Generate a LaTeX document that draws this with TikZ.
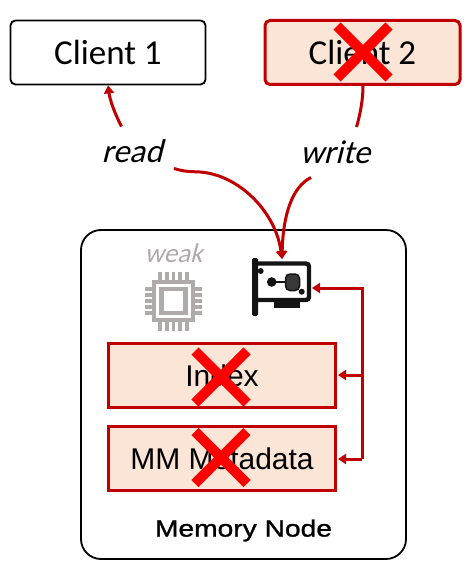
\documentclass[tikz,border=0pt]{standalone}
\usepackage{fontspec}
\setmainfont{Carlito}
\newfontfamily\arialf{Liberation Sans}
\newfontfamily\memf[FakeStretch=1.2,FakeBold=1.2]{Liberation Sans}
\newfontfamily\slantf[FakeSlant=0.25]{Carlito}
\usetikzlibrary{arrows.meta}
\definecolor{dred}{RGB}{192,0,0}
\definecolor{peach}{RGB}{251,229,214}
\definecolor{chipgrey}{RGB}{175,171,171}
\definecolor{iconblack}{RGB}{20,20,20}
\tikzset{
  client/.style={draw=black,line width=1.8pt,rounded corners=5pt,minimum width=195pt,minimum height=64pt,inner sep=0pt,font=\fontsize{35}{39}\selectfont},
  failclient/.style={client,draw=dred,fill=peach,line width=3pt},
  store/.style={draw=dred,fill=peach,line width=3pt,minimum width=227pt,minimum height=64pt,inner sep=0pt,font=\arialf\fontsize{30}{34}\selectfont},
  opnote/.style={inner sep=0pt,font=\slantf\fontsize{33}{37}\selectfont},
  flow/.style={draw=dred,line width=3pt},
  flowtip/.style={flow,-{Triangle[length=8pt,width=10pt]}},
  crossmark/.style={draw=red,line width=10pt},
  chipline/.style={draw=chipgrey,line width=4.2pt},
  pin/.style={draw=chipgrey,line width=3.6pt},
}
\begin{document}
\begin{tikzpicture}[x=1pt,y=-1pt]
\useasboundingbox (0,0) rectangle (472,572);
% memory node
\node[draw=black,line width=1.8pt,rounded corners=20pt,minimum width=325pt,minimum height=329pt,inner sep=0pt] (mem) at (243.5,394.5) {};
\node[inner sep=0pt,font=\memf\fontsize{23.5}{28}\selectfont] (memlabel) at (243.5,530.5) {Memory Node};
% clients
\node[client] (c1) at (108,52.5) {Client 1};
\node[failclient] (c2) at (362.5,52.5) {Client 2};
% stores
\node[store] (index) at (222,375.5) {Index};
\node[store] (meta) at (222,458.5) {MM Metadata};
% labels
\node[opnote] (read) at (132,151) {read};
\node[opnote] (write) at (335,152) {write};
\node[inner sep=0pt,text=chipgrey,font=\slantf\fontsize{27}{31}\selectfont] (weak) at (173.5,253) {weak};
% chip icon
\node[chipline,minimum width=39pt,minimum height=38pt,inner sep=0pt] (chip) at (173.5,301) {};
\node[chipline,minimum width=24pt,minimum height=24pt,inner sep=0pt] (core) at (173.5,301) {};
\foreach \d in {-13.4,-6.7,0,6.7,13.4}{
  \draw[pin] (chip.center)++(\d,-20) -- ++(0,-9.5);
  \draw[pin] (chip.center)++(\d,20) -- ++(0,9.5);
}
\foreach \d in {-12,-6,0,6,12}{
  \draw[pin] (chip.center)++(-21,\d) -- ++(-7.5,0);
  \draw[pin] (chip.center)++(21,\d) -- ++(7.5,0);
}
% network card icon
\node[minimum width=54pt,minimum height=38pt,inner sep=0pt] (nic) at (283,281) {};
\fill[iconblack,rounded corners=1.5pt] (252,258) rectangle (258,316);
\draw[iconblack,line width=4.4pt,rounded corners=3pt] (256,263.5) -- (309,263.5) -- (309,300) -- (256,300);
\fill[iconblack] (274,300) rectangle (300,308);
\fill[iconblack] (260.7,271) circle (3);
\fill[iconblack] (301.7,291.7) circle (3);
\fill[iconblack] (271.7,282) circle (4.8);
\draw[iconblack,line width=2pt] (271.7,282) -- (286,282);
\fill[black!78,draw=iconblack,line width=1.5pt,rounded corners=4.5pt] (285.5,274) rectangle (299.5,290.5);
% connectors
\coordinate (readup) at (121.5,126.5);
\coordinate (readdown) at (174,168.5);
\coordinate (writeup) at (356.5,127);
\coordinate (writedown) at (311,177.5);
\coordinate (nictop) at (282,259);
\coordinate (bus) at (362,288);
\coordinate (indexjoin) at (362,375);
\coordinate (metajoin) at (362,459);
\draw[flowtip] (readup) .. controls (114,112) and (110,100) .. (c1.south -| 108,86);
\draw[flow] (c2.south -| 363,85) .. controls (363,100) and (360,115) .. (writeup);
\draw[flowtip] (readdown) .. controls (185,172) and (192,171.5) .. (200,172) .. controls (240,175) and (276,213) .. (nictop);
\draw[flowtip] (writedown) .. controls (292,187) and (283,215) .. (nictop);
\draw[flowtip] (metajoin) -- (bus) -- (312,288);
\draw[flowtip] (indexjoin) -- (338,375);
\draw[flowtip] (metajoin) -- (338,459);
% crosses
\draw[crossmark] (337,26) -- (389,78) (389,26) -- (337,78);
\draw[crossmark] (195,351) -- (247,403) (247,351) -- (195,403);
\draw[crossmark] (195,431.5) -- (247,483.5) (247,431.5) -- (195,483.5);
\end{tikzpicture}
\end{document}
